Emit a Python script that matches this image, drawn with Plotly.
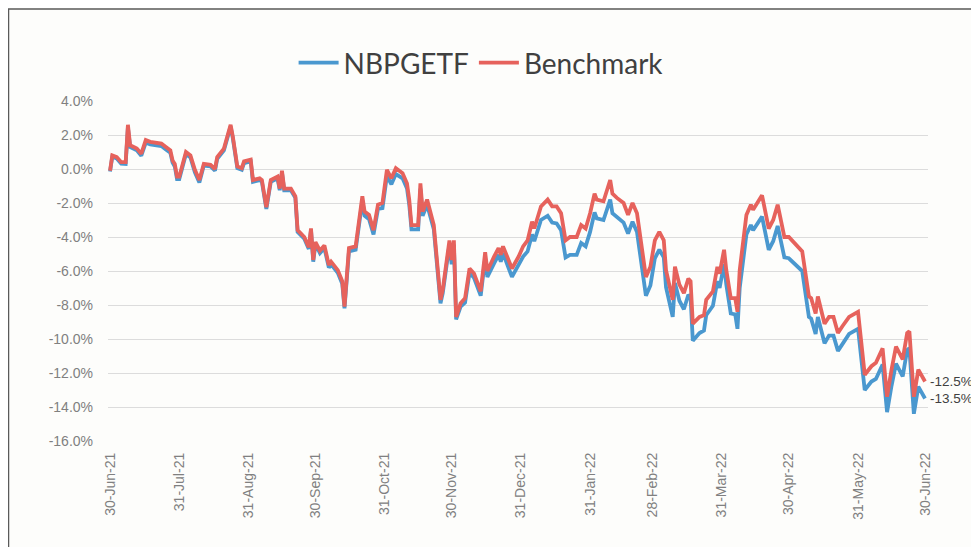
import plotly.graph_objects as go

dates = [
    "2021-06-30", "2021-07-01", "2021-07-03", "2021-07-05", "2021-07-07", "2021-07-08", "2021-07-09",
    "2021-07-12", "2021-07-14", "2021-07-16", "2021-07-18", "2021-07-21", "2021-07-23", "2021-07-25",
    "2021-07-27", "2021-07-28", "2021-07-29", "2021-07-30", "2021-07-31", "2021-08-03", "2021-08-05",
    "2021-08-07", "2021-08-09", "2021-08-11", "2021-08-14", "2021-08-16", "2021-08-17", "2021-08-20",
    "2021-08-23", "2021-08-24", "2021-08-26", "2021-08-28", "2021-08-29", "2021-09-01", "2021-09-02",
    "2021-09-05", "2021-09-06", "2021-09-08", "2021-09-10", "2021-09-13", "2021-09-14", "2021-09-15",
    "2021-09-16", "2021-09-19", "2021-09-21", "2021-09-22", "2021-09-25", "2021-09-27", "2021-09-28",
    "2021-09-29", "2021-09-30", "2021-10-02", "2021-10-04", "2021-10-06", "2021-10-07", "2021-10-10",
    "2021-10-12", "2021-10-13", "2021-10-15", "2021-10-18", "2021-10-21", "2021-10-22", "2021-10-24",
    "2021-10-26", "2021-10-28", "2021-10-30", "2021-11-01", "2021-11-03", "2021-11-05", "2021-11-08",
    "2021-11-10", "2021-11-11", "2021-11-12", "2021-11-15", "2021-11-16", "2021-11-17", "2021-11-19",
    "2021-11-22", "2021-11-25", "2021-11-26", "2021-11-29", "2021-11-30", "2021-12-01", "2021-12-02",
    "2021-12-04", "2021-12-06", "2021-12-08", "2021-12-10", "2021-12-13", "2021-12-15", "2021-12-16",
    "2021-12-19", "2021-12-21", "2021-12-22", "2021-12-23", "2021-12-27", "2021-12-30", "2022-01-01",
    "2022-01-03", "2022-01-05", "2022-01-06", "2022-01-09", "2022-01-12", "2022-01-14", "2022-01-16",
    "2022-01-18", "2022-01-20", "2022-01-22", "2022-01-25", "2022-01-27", "2022-01-29", "2022-01-31",
    "2022-02-02", "2022-02-03", "2022-02-06", "2022-02-09", "2022-02-10", "2022-02-12", "2022-02-15",
    "2022-02-17", "2022-02-19", "2022-02-21", "2022-02-22", "2022-02-25", "2022-02-27", "2022-03-01",
    "2022-03-03", "2022-03-05", "2022-03-06", "2022-03-09", "2022-03-10", "2022-03-12", "2022-03-14",
    "2022-03-16", "2022-03-17", "2022-03-18", "2022-03-21", "2022-03-23", "2022-03-24", "2022-03-27",
    "2022-03-29", "2022-03-30", "2022-04-01", "2022-04-02", "2022-04-04", "2022-04-06", "2022-04-07",
    "2022-04-08", "2022-04-11", "2022-04-13", "2022-04-14", "2022-04-18", "2022-04-21", "2022-04-23",
    "2022-04-25", "2022-04-28", "2022-04-30", "2022-05-03", "2022-05-06", "2022-05-09", "2022-05-10",
    "2022-05-12", "2022-05-13", "2022-05-16", "2022-05-18", "2022-05-20", "2022-05-22", "2022-05-24",
    "2022-05-27", "2022-05-31", "2022-06-03", "2022-06-06", "2022-06-08", "2022-06-11", "2022-06-13",
    "2022-06-15", "2022-06-17", "2022-06-20", "2022-06-22", "2022-06-23", "2022-06-25", "2022-06-27",
    "2022-06-30",
]

benchmark = [
    -0.10, 0.80, 0.70, 0.40, 0.40, 2.60, 1.40, 1.20, 0.90, 1.70, 1.60, 1.55, 1.50, 1.30,
    1.10, 0.50, 0.30, -0.45, -0.45, 1.00, 0.80, -0.05, -0.65, 0.30, 0.25, 0.00, 0.70, 1.20,
    2.60, 1.90, 0.15, 0.05, 0.45, 0.55, -0.65, -0.55, -0.65, -2.25, -0.65, -0.45, -1.15, -0.10,
    -1.15, -1.15, -1.60, -3.60, -4.00, -4.60, -3.50, -5.35, -4.30, -4.80, -4.50, -5.65, -5.45, -5.95,
    -6.60, -8.10, -4.65, -4.55, -1.60, -2.50, -2.70, -3.60, -2.10, -2.00, -0.05, -0.55, 0.05, -0.25,
    -0.85, -1.80, -3.30, -3.30, -0.85, -2.50, -1.80, -3.30, -7.70, -7.10, -4.20, -5.35, -4.20, -8.70,
    -7.90, -7.60, -5.85, -6.15, -7.20, -4.90, -6.00, -5.15, -4.65, -5.05, -4.55, -5.85, -5.15, -4.55,
    -4.20, -3.10, -3.50, -2.20, -1.80, -2.20, -2.20, -2.60, -4.20, -4.00, -4.00, -3.30, -3.50, -2.60,
    -1.45, -1.80, -1.90, -0.65, -1.45, -1.70, -2.00, -2.70, -2.00, -2.60, -3.60, -6.35, -5.75, -4.20,
    -3.70, -4.20, -5.95, -7.70, -5.75, -6.80, -7.30, -6.45, -6.60, -9.10, -8.70, -8.60, -7.70, -7.20,
    -5.75, -6.15, -4.75, -5.95, -7.60, -7.60, -8.40, -5.95, -2.70, -2.10, -2.40, -1.55, -3.50, -3.00,
    -2.10, -4.00, -4.00, -4.40, -4.85, -7.50, -7.60, -8.50, -7.50, -9.10, -8.70, -8.70, -9.65, -9.25,
    -8.70, -8.40, -12.10, -11.60, -11.40, -10.55, -13.40, -11.80, -10.45, -11.20, -9.65, -9.55, -13.40, -11.80,
    -12.50,
]

nbpgetf = [
    -0.15, 0.72, 0.62, 0.32, 0.30, 2.45, 1.30, 1.10, 0.78, 1.55, 1.45, 1.40, 1.35, 1.15,
    0.95, 0.38, 0.15, -0.60, -0.60, 0.88, 0.68, -0.20, -0.80, 0.20, 0.15, -0.10, 0.60, 1.10,
    2.50, 1.80, 0.05, -0.05, 0.35, 0.45, -0.75, -0.65, -0.75, -2.35, -0.75, -0.55, -1.25, -0.20,
    -1.25, -1.25, -1.70, -3.70, -4.10, -4.70, -3.60, -5.45, -4.40, -4.95, -4.65, -5.80, -5.60, -6.10,
    -6.75, -8.20, -4.85, -4.75, -1.85, -2.75, -2.95, -3.85, -2.35, -2.30, -0.40, -0.90, -0.30, -0.55,
    -1.15, -2.10, -3.55, -3.55, -1.15, -2.75, -2.10, -3.55, -7.90, -7.30, -4.45, -5.60, -4.45, -8.85,
    -8.10, -7.85, -6.10, -6.40, -7.45, -5.25, -6.35, -5.55, -5.05, -5.45, -4.95, -6.35, -5.65, -5.15,
    -4.85, -3.85, -4.25, -3.00, -2.75, -3.15, -3.20, -3.60, -5.20, -5.05, -5.05, -4.35, -4.55, -3.70,
    -2.55, -2.90, -3.00, -1.80, -2.60, -2.85, -3.15, -3.80, -3.10, -3.70, -4.70, -7.45, -6.85, -5.25,
    -4.75, -5.20, -6.95, -8.70, -6.70, -7.75, -8.25, -7.40, -7.55, -10.10, -9.65, -9.50, -8.60, -8.05,
    -6.60, -7.00, -5.60, -6.80, -8.50, -8.55, -9.40, -7.00, -3.85, -3.30, -3.60, -2.80, -4.75, -4.25,
    -3.35, -5.20, -5.25, -5.65, -6.00, -8.70, -8.80, -9.70, -8.70, -10.25, -9.80, -9.80, -10.70, -10.30,
    -9.70, -9.40, -13.00, -12.50, -12.35, -11.50, -14.30, -12.75, -11.45, -12.20, -10.65, -10.55, -14.40, -12.80,
    -13.50,
]

tick_dates = [
    "2021-06-30", "2021-07-31", "2021-08-31", "2021-09-30", "2021-10-31", "2021-11-30", "2021-12-31",
    "2022-01-31", "2022-02-28", "2022-03-31", "2022-04-30", "2022-05-31", "2022-06-30",
]
tick_labels = [
    "30-Jun-21", "31-Jul-21", "31-Aug-21", "30-Sep-21", "31-Oct-21", "30-Nov-21", "31-Dec-21",
    "31-Jan-22", "28-Feb-22", "31-Mar-22", "30-Apr-22", "31-May-22", "30-Jun-22",
]
y_ticks = [4, 2, 0, -2, -4, -6, -8, -10, -12, -14, -16]
y_tick_labels = ["4.0%", "2.0%", "0.0%", "-2.0%", "-4.0%", "-6.0%", "-8.0%", "-10.0%", "-12.0%", "-14.0%", "-16.0%"]

end_labels = ["-12.5%", "-13.5%"]

BLUE = "#4a98cf"
RED = "#e6625c"
LABEL_FONT = "Liberation Sans, Arial, sans-serif"

# The page body adds an 8px offset; figure sized to fit inside the 979x547 window.
W, H = 971, 539
L, R, T, B = 100, 51, 93, 106
PW, PH = W - L - R, H - T - B
BOTTOM_Y = T + PH  # figure pixel row of paper y=0


def paper_x(px):
    return (px - L) / PW


def paper_y(py):
    return (BOTTOM_Y - py) / PH


fig = go.Figure()
fig.add_trace(go.Scatter(x=dates, y=nbpgetf, name="NBPGETF", mode="lines",
                         line=dict(color=BLUE, width=3.8)))
fig.add_trace(go.Scatter(x=dates, y=benchmark, name="Benchmark", mode="lines",
                         line=dict(color=RED, width=3.8)))

fig.add_annotation(x=dates[-1], y=benchmark[-1], text=end_labels[0], showarrow=False,
                   xanchor="left", yanchor="middle", xshift=3,
                   font=dict(size=13.5, color="#404040", family=LABEL_FONT))
fig.add_annotation(x=dates[-1], y=nbpgetf[-1], text=end_labels[1], showarrow=False,
                   xanchor="left", yanchor="middle", xshift=3,
                   font=dict(size=13.5, color="#404040", family=LABEL_FONT))

# outer frame
fig.add_shape(type="rect", xref="paper", yref="paper",
              x0=paper_x(0.5), x1=paper_x(W + 10),
              y0=paper_y(H + 10), y1=paper_y(1),
              line=dict(color="#5a5a5a", width=1.5), fillcolor="rgba(0,0,0,0)", layer="below")

fig.update_layout(
    width=W, height=H,
    margin=dict(l=L, r=R, t=T, b=B),
    paper_bgcolor="#fdfdfb", plot_bgcolor="#fdfdfb",
    font=dict(family=LABEL_FONT, color="#808080"),
    showlegend=True,
    legend=dict(orientation="h", x=0.455, xanchor="center", y=1.112, yanchor="middle",
                font=dict(size=28, color="#404040", family="Lato, sans-serif"),
                bgcolor="rgba(0,0,0,0)", itemwidth=40, traceorder="normal"),
    xaxis=dict(type="date", range=["2021-06-29 02:00", "2022-07-01 08:00"],
               tickvals=tick_dates, ticktext=tick_labels, tickangle=-90,
               showgrid=False, zeroline=False, showline=False, ticks="",
               tickfont=dict(size=14, color="#808080"), ticklabelstandoff=8),
    yaxis=dict(range=[-16, 4], tickvals=y_ticks, ticktext=y_tick_labels,
               showgrid=True, gridcolor="#dcdcdc", gridwidth=1, zeroline=False,
               showline=False, ticks="", tickfont=dict(size=14, color="#808080"),
               ticklabelstandoff=14),
)

fig.write_html("out.html")
